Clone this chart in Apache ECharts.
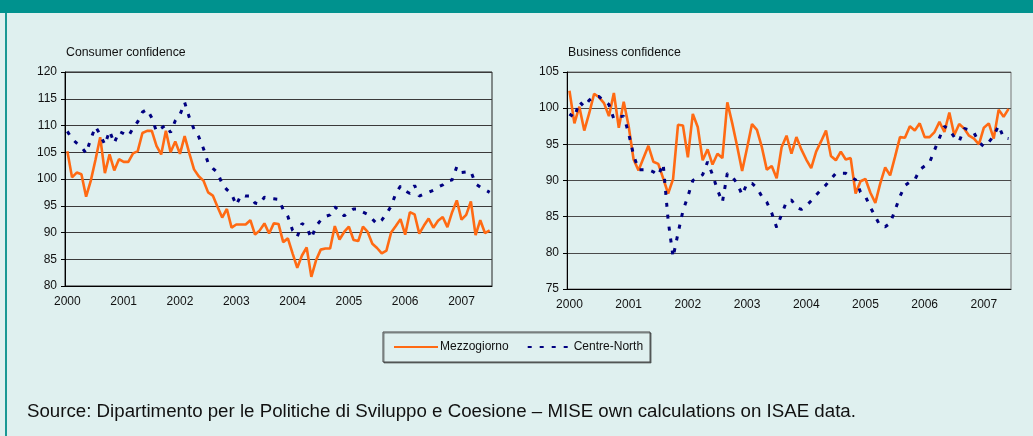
<!DOCTYPE html>
<html>
<head>
<meta charset="utf-8">
<script src="https://cdn.jsdelivr.net/npm/echarts@6/dist/echarts.min.js"></script>
<style>
  html, body { margin: 0; padding: 0; background: #dff0ef; }
  #chart { width: 1033px; height: 436px; }
</style>
</head>
<body>
<div id="chart"></div>
<script>
// monthly data, Jan 2000 onwards
const years = ['2000', '2001', '2002', '2003', '2004', '2005', '2006', '2007'];

const consumerSouth = [
  105.2, 100.3, 101.2, 100.9, 96.7, 99.7, 103.6, 107.8, 101.1, 104.6, 101.6, 103.7,
  103.2, 103.2, 104.8, 105.2, 108.6, 109.0, 109.0, 106.2, 104.6, 109.0, 105.0, 107.0,
  104.7, 108.0, 104.8, 101.8, 100.5, 99.7, 97.5, 96.9, 94.8, 92.8, 94.4, 90.9,
  91.5, 91.5, 91.5, 92.3, 89.6, 90.4, 91.7, 89.8, 91.7, 91.6, 88.2, 88.9,
  86.1, 83.4, 85.7, 87.2, 81.7, 84.8, 86.8, 87.0, 87.0, 91.2, 88.7, 90.1,
  91.1, 88.6, 88.4, 91.1, 90.1, 87.9, 87.1, 86.1, 86.6, 90.0, 91.2, 92.5,
  89.6, 93.8, 93.4, 89.8, 91.3, 92.6, 90.9, 92.2, 92.9, 91.0, 93.8, 96.0,
  92.4, 93.3, 95.8, 89.5, 92.3, 89.9, 90.4
];
const consumerNorth = [
  108.9, 107.5, 106.7, 106.0, 104.8, 107.5, 109.8, 108.3, 106.4, 109.0, 106.7, 108.9,
  108.5, 108.0, 109.5, 110.7, 112.5, 113.0, 111.4, 108.9, 109.5, 110.1, 108.7, 110.9,
  112.0, 114.3, 111.5, 109.3, 107.9, 105.7, 103.0, 102.0, 101.2, 99.1, 98.0, 97.2,
  95.1, 97.0, 96.8, 96.8, 95.5, 95.3, 96.6, 96.4, 96.3, 96.2, 94.3, 93.0,
  90.4, 89.2, 91.7, 91.0, 88.9, 91.2, 92.3, 93.0, 93.3, 94.8, 94.0, 93.1,
  93.8, 94.4, 94.4, 93.8, 93.4, 92.5, 91.6, 92.3, 93.5, 94.9, 97.3, 98.7,
  97.8, 97.3, 98.8, 96.8, 97.2, 97.5, 97.9, 98.5, 98.9, 99.7, 99.8, 102.3,
  101.2, 101.3, 101.4, 99.1, 98.5, 98.0, 97.5
];
const businessSouth = [
  102.4, 97.9, 100.2, 96.9, 99.3, 102.0, 101.5, 100.7, 98.9, 102.1, 97.3, 100.9,
  97.5, 92.9, 91.4, 93.1, 94.8, 92.6, 92.3, 90.3, 88.2, 90.2, 97.7, 97.6,
  93.2, 99.2, 97.4, 92.8, 94.3, 92.2, 93.7, 93.1, 100.8, 97.9, 94.7, 91.3,
  94.5, 97.8, 97.0, 94.6, 91.5, 92.0, 90.3, 94.6, 96.2, 93.7, 96.0, 94.3,
  92.9, 91.7, 94.0, 95.4, 96.9, 93.4, 92.8, 94.0, 92.9, 93.1, 88.2, 89.9,
  90.2, 88.3, 86.9, 89.6, 91.8, 90.7, 93.3, 96.0, 95.9, 97.5, 96.9, 97.9,
  96.0, 96.0, 96.7, 98.1, 96.7, 99.4, 96.3, 97.8, 97.2, 96.2, 95.8, 95.0,
  97.3, 97.9, 95.8, 99.8, 98.8, 99.9
];
const businessNorth = [
  99.2, 98.7, 100.9, 100.2, 101.1, 101.6, 101.6, 101.0, 100.5, 98.5, 98.8, 98.9,
  96.5, 93.5, 91.5, 91.5, 91.5, 91.2, 90.7, 92.3, 84.5, 79.4, 82.7, 85.8,
  87.8, 90.0, 90.4, 90.8, 92.6, 90.8, 88.7, 87.0, 91.0, 90.5, 89.6, 88.0,
  89.6, 89.6, 89.0, 87.8, 87.0, 85.5, 83.5, 85.3, 87.1, 87.3, 86.3, 86.0,
  86.5, 87.2, 88.0, 88.7, 89.4, 90.2, 91.0, 91.0, 91.0, 90.5, 90.1, 88.4,
  87.8, 86.3, 85.0, 83.7, 83.6, 84.1, 85.9, 87.8, 89.3, 89.8, 90.1, 91.5,
  92.0, 92.5, 94.2, 95.9, 97.5, 97.0, 96.0, 95.4, 97.2, 97.0, 96.6, 95.3,
  94.7, 95.3, 96.2, 97.6, 95.9, 95.8
];

const months = [];
years.forEach(y => {
  for (let m = 1; m <= 12; m++) months.push(y + '-' + (m < 10 ? '0' + m : m));
});
const consumerMonths = months.slice(0, consumerSouth.length);
const businessMonths = months.slice(0, businessSouth.length);

const SOUTH = '#ff6a13';
const NORTH = '#000080';
const FONT = 'Liberation Sans, Arial, sans-serif';

function xAxis(gridIndex, data) {
  return {
    type: 'category',
    gridIndex: gridIndex,
    data: data,
    boundaryGap: true,
    axisLine: { lineStyle: { color: '#000', width: 1 } },
    axisTick: { show: false },
    axisLabel: {
      interval: (i) => i % 12 === 0,
      formatter: (v) => v.slice(0, 4),
      color: '#111', fontSize: 12, fontFamily: FONT, margin: 10
    },
    splitLine: { show: false }
  };
}

function yAxis(gridIndex, min, max, gridColor) {
  return {
    type: 'value',
    gridIndex: gridIndex,
    min: min, max: max, interval: 5,
    axisLine: { show: true, lineStyle: { color: '#000', width: 1 } },
    axisTick: { show: true, length: 4, lineStyle: { color: '#000' } },
    axisLabel: { color: '#111', fontSize: 12, fontFamily: FONT, margin: 8 },
    splitLine: { lineStyle: { color: gridColor, width: 1 } }
  };
}

function south(idx, data) {
  return {
    name: 'Mezzogiorno', type: 'line', xAxisIndex: idx, yAxisIndex: idx,
    data: data, showSymbol: false, symbol: 'none', animation: false,
    lineStyle: { color: SOUTH, width: 2.6 }, itemStyle: { color: SOUTH }
  };
}
function north(idx, data) {
  return {
    name: 'Centre-North', type: 'line', xAxisIndex: idx, yAxisIndex: idx,
    data: data, showSymbol: false, symbol: 'none', animation: false,
    lineStyle: { color: NORTH, width: 3, type: [4, 8] }, itemStyle: { color: NORTH }
  };
}

const chart = echarts.init(document.getElementById('chart'));
chart.setOption({
  backgroundColor: '#dff0ef',
  animation: false,
  title: [
    { text: 'Consumer confidence', left: 66, top: 47, padding: 0,
      textStyle: { fontSize: 12.3, fontWeight: 'normal', color: '#111', fontFamily: FONT } },
    { text: 'Business confidence', left: 568, top: 47, padding: 0,
      textStyle: { fontSize: 12.3, fontWeight: 'normal', color: '#111', fontFamily: FONT } }
  ],
  grid: [
    { left: 65, top: 72, width: 427, height: 214, show: true,
      borderColor: '#222', borderWidth: 1, backgroundColor: 'transparent' },
    { left: 567, top: 72, width: 444, height: 217, show: true,
      borderColor: '#777', borderWidth: 1, backgroundColor: 'transparent' }
  ],
  xAxis: [xAxis(0, consumerMonths), xAxis(1, businessMonths)],
  yAxis: [yAxis(0, 80, 120, '#3a3a3a'), yAxis(1, 75, 105, '#4a4a4a')],
  legend: {
    left: 383, top: 332,
    data: ['Mezzogiorno', 'Centre-North'],
    itemWidth: 44, itemHeight: 12, itemGap: 18,
    padding: [9, 7, 9, 10],
    borderColor: '#444', borderWidth: 1,
    backgroundColor: '#dff0ef',
    shadowColor: 'rgba(0,0,0,0.45)', shadowOffsetX: 1, shadowOffsetY: 1,
    itemStyle: { opacity: 0 },
    textStyle: { fontSize: 12, color: '#111', fontFamily: FONT, padding: [0, 0, 0, -3] }
  },
  series: [
    south(0, consumerSouth),
    north(0, consumerNorth),
    south(1, businessSouth),
    north(1, businessNorth)
  ],
  graphic: [
    { type: 'rect', left: 0, top: 0, shape: { width: 1033, height: 13 },
      style: { fill: '#00928e' }, silent: true },
    { type: 'rect', left: 5, top: 13, shape: { width: 2, height: 423 },
      style: { fill: '#1a9894' }, silent: true },
    { type: 'text', left: 27, top: 402,
      style: { text: 'Source: Dipartimento per le Politiche di Sviluppo e Coesione \u2013 MISE own calculations on ISAE data.',
        fontSize: 18.7, fill: '#111', fontFamily: FONT } }
  ]
});
</script>
</body>
</html>
